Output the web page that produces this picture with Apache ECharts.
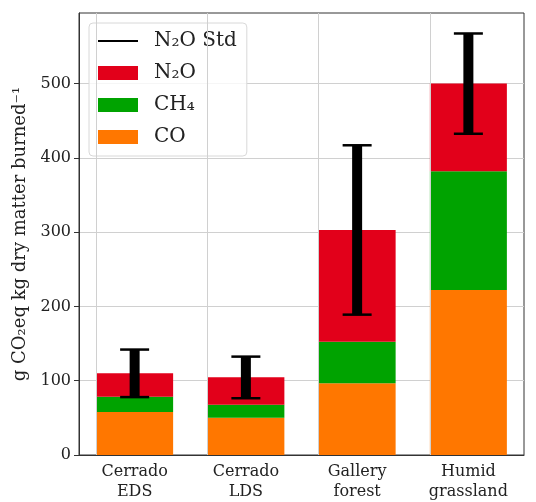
<!DOCTYPE html>
<html>
<head>
<meta charset="utf-8">
<script src="https://cdn.jsdelivr.net/npm/echarts@6/dist/echarts.min.js"></script>
<style>
  html, body { margin: 0; padding: 0; background: #fff; }
  #main { width: 536px; height: 502px; }
</style>
</head>
<body>
<div id="main"></div>
<script>
var categories = ['Cerrado\nEDS', 'Cerrado\nLDS', 'Gallery\nforest', 'Humid\ngrassland'];
var coValues = [58, 50, 96.5, 222];
var ch4Values = [20.5, 17.5, 56, 160];
var n2oValues = [31.5, 37, 150.5, 118];
var n2oStd = [32, 28, 114, 67.5];
var yTicks = [0, 100, 200, 300, 400, 500];

var font = 'DejaVu Serif';
var chart = echarts.init(document.getElementById('main'), null, { renderer: 'canvas' });

// error bars sit on top of the stacked total
var errData = categories.map(function (c, i) {
  var total = coValues[i] + ch4Values[i] + n2oValues[i];
  return [i, total - n2oStd[i], total + n2oStd[i]];
});

function renderErr(params, api) {
  var x = api.coord([api.value(0), 0])[0];
  var lo = api.coord([api.value(0), api.value(1)])[1];
  var hi = api.coord([api.value(0), api.value(2)])[1];
  var style = { fill: '#000' };
  return {
    type: 'group',
    children: [
      { type: 'rect', shape: { x: x - 5, y: hi, width: 10, height: lo - hi }, style: style },
      { type: 'rect', shape: { x: x - 14.5, y: hi - 1.2, width: 29, height: 2.5 }, style: style },
      { type: 'rect', shape: { x: x - 14.5, y: lo - 1.2, width: 29, height: 2.5 }, style: style }
    ]
  };
}

var option = {
  animation: false,
  textStyle: { fontFamily: font },
  grid: {
    left: 79, right: 12, top: 13, bottom: 45,
    show: true, borderColor: '#333', borderWidth: 1
  },
  legend: {
    orient: 'vertical',
    left: 89, top: 23,
    padding: [7, 10, 8, 8],
    itemWidth: 40, itemHeight: 14,
    itemGap: 10,
    backgroundColor: 'rgba(255,255,255,0.8)',
    borderColor: '#d8d8d8', borderWidth: 1, borderRadius: 4,
    textStyle: { fontFamily: font, fontSize: 20, color: '#222', lineHeight: 22, padding: [0, 0, 0, 11] },
    data: [
      'N₂O Std',
      { name: 'N₂O', icon: 'rect' },
      { name: 'CH₄', icon: 'rect' },
      { name: 'CO', icon: 'rect' }
    ]
  },
  xAxis: {
    type: 'category',
    data: categories,
    axisLine: { lineStyle: { color: '#333' } },
    axisTick: { alignWithLabel: true, length: 5, lineStyle: { color: '#333' } },
    axisLabel: { fontFamily: font, fontSize: 16, color: '#222', lineHeight: 20, margin: 7 },
    splitLine: { show: false }
  },
  yAxis: {
    type: 'value',
    min: 0, max: 595, interval: 100,
    name: 'g CO₂eq kg dry matter burned⁻¹',
    nameLocation: 'middle',
    nameGap: 44,
    nameTextStyle: { fontFamily: font, fontSize: 18, color: '#222' },
    axisLine: { show: true, lineStyle: { color: '#333' } },
    axisTick: { show: true, length: 5, customValues: yTicks, lineStyle: { color: '#333' } },
    axisLabel: {
      fontFamily: font, fontSize: 16, color: '#222', margin: 8,
      customValues: yTicks
    },
    splitLine: { lineStyle: { color: '#d0d0d0', width: 1 } }
  },
  series: [
    {
      name: 'N₂O Std', type: 'line', data: [], symbol: 'none',
      lineStyle: { color: '#000', width: 2 },
      itemStyle: { color: 'rgba(0,0,0,0)', borderWidth: 0 }
    },
    {
      type: 'bar', data: [], silent: true, z: 1,
      markLine: {
        silent: true, symbol: 'none', label: { show: false },
        lineStyle: { color: '#d0d0d0', type: 'solid', width: 1 },
        data: categories.map(function (c) { return { xAxis: c }; })
      }
    },
    {
      name: 'CO', type: 'bar', stack: 'total', barWidth: 77, z: 2,
      itemStyle: { color: '#ff7700' }, data: coValues
    },
    {
      name: 'CH₄', type: 'bar', stack: 'total', z: 2,
      itemStyle: { color: '#00a300' }, data: ch4Values
    },
    {
      name: 'N₂O', type: 'bar', stack: 'total', z: 2,
      itemStyle: { color: '#e2001a' }, data: n2oValues
    },
    {
      name: 'N₂O Std', type: 'custom', z: 5,
      renderItem: renderErr,
      encode: { x: 0, y: [1, 2] },
      data: errData
    }
  ]
};

chart.setOption(option);
</script>
</body>
</html>
